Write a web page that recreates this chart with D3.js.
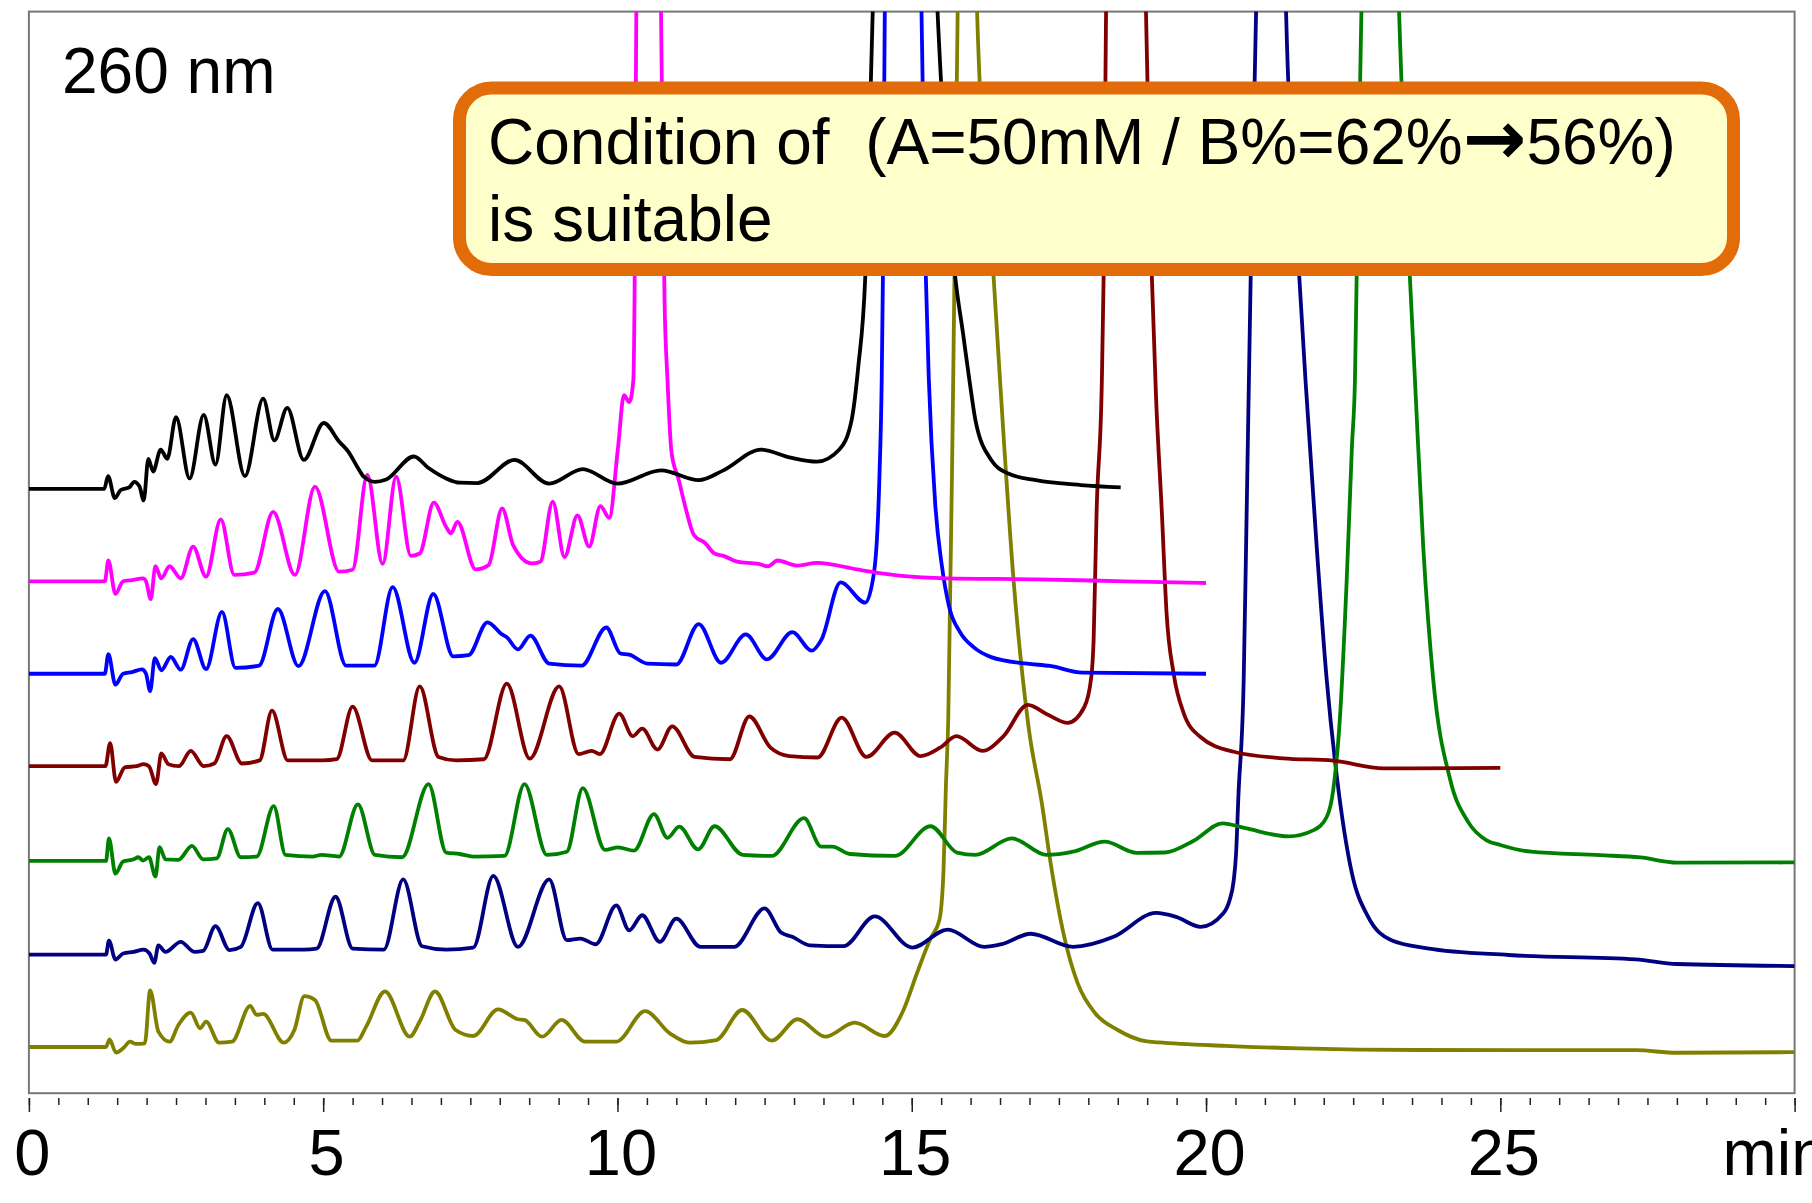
<!DOCTYPE html>
<html>
<head>
<meta charset="utf-8">
<script src="https://cdn.jsdelivr.net/npm/d3@7"></script>
<style>
  body { margin: 0; background: #fff; }
  svg { display: block; font-family: "Liberation Sans", Arial, Helvetica, sans-serif; }
</style>
</head>
<body>
<svg id="chart" width="1812" height="1203"></svg>
<script>
// [time (min), signal above the trace's own baseline]
const black = [
  [0, 0], [1.28, 0], [1.345, 11], [1.46, -8], [1.56, -1], [1.71, 1.5], [1.79, 6], [1.88, 2], [1.95, -10],
  [2.03, 26], [2.11, 15], [2.24, 34], [2.35, 26], [2.5, 62], [2.73, 9], [2.97, 64], [3.17, 21], [3.36, 81],
  [3.67, 11], [3.98, 78], [4.17, 42], [4.39, 70], [4.67, 25], [5.01, 57], [5.27, 41], [5.43, 32], [5.58, 19],
  [5.69, 10.5], [5.88, 6], [6.07, 8], [6.54, 28], [6.79, 18], [7.09, 9], [7.32, 5.3], [7.62, 5], [8.25, 25],
  [8.84, 4.5], [9.41, 17], [10.0, 4.5], [10.74, 16], [11.38, 7.5], [11.8, 16], [12.44, 34], [12.94, 27],
  [13.39, 23.5], [13.77, 34], [13.98, 60], [14.09, 105], [14.21, 183], [14.33, 400], [14.9, 1300],
  [15.45, 400], [15.74, 183], [15.87, 135], [15.98, 94], [16.08, 60], [16.35, 25], [16.65, 13],
  [17.11, 7.5], [17.87, 3.3], [18.55, 1.3]
];
const magenta = [
  [0, 0], [1.29, 0], [1.35, 18], [1.47, -11], [1.6, 0], [1.75, 1], [1.94, 2.5], [1.99, 0], [2.07, -15.5],
  [2.15, 13], [2.25, 2.5], [2.39, 13], [2.58, 2.5], [2.79, 30], [3.01, 4], [3.26, 53.5], [3.49, 5.5],
  [3.83, 7.5], [4.15, 60], [4.52, 5.5], [4.86, 82], [5.27, 8.3], [5.5, 10], [5.75, 92], [6.01, 15],
  [6.24, 90.5], [6.49, 22], [6.64, 24], [6.88, 68], [7.09, 47], [7.17, 41.5], [7.28, 51.5], [7.59, 10.3],
  [7.81, 14], [8.04, 63], [8.23, 31], [8.54, 15.5], [8.69, 17], [8.9, 69], [9.1, 21], [9.32, 57], [9.52, 30],
  [9.71, 65], [9.86, 55], [10.01, 116], [10.11, 161], [10.2, 155], [10.27, 174], [10.29, 243], [10.32, 493],
  [10.53, 1300], [10.74, 493], [10.8, 243], [10.85, 174], [10.92, 111], [11.04, 88], [11.15, 65], [11.3, 40],
  [11.49, 33], [11.65, 24], [11.8, 22], [12.03, 17], [12.4, 15], [12.56, 13], [12.72, 18], [13.05, 13.5],
  [13.39, 16], [14.07, 10.3], [14.3, 8.3], [14.83, 4.6], [15.59, 2.5], [17.11, 1.7], [18.62, 0], [20, -1.5]
];
const blue = [
  [0, 0], [1.29, 0], [1.35, 17], [1.47, -9.5], [1.6, 0], [1.75, 1.4], [1.92, 3.8], [1.99, 0], [2.06, -15],
  [2.14, 13.5], [2.25, 3], [2.41, 14.5], [2.58, 3.5], [2.79, 30], [3.01, 4], [3.28, 53.5], [3.51, 5], [3.91, 7],
  [4.23, 56], [4.58, 6.5], [5.03, 71.5], [5.39, 7], [5.87, 7], [6.18, 75], [6.55, 9.5], [6.87, 69], [7.21, 15],
  [7.47, 16], [7.79, 44.5], [8.04, 34], [8.12, 31.5], [8.31, 21], [8.52, 33], [8.84, 8.7], [9.39, 7],
  [9.81, 40], [10.05, 17.5], [10.2, 16.5], [10.51, 8.7], [11.0, 8], [11.38, 43], [11.76, 9.5], [12.18, 34],
  [12.54, 12.5], [12.97, 36], [13.3, 20], [13.47, 30], [13.79, 79], [14.21, 61.5], [14.36, 88], [14.45, 169],
  [14.49, 255], [14.51, 343], [14.54, 560], [14.85, 1400], [15.17, 560], [15.24, 343], [15.29, 255],
  [15.4, 146], [15.51, 94], [15.63, 59], [15.82, 36], [16.05, 23], [16.35, 14.4], [16.96, 8.7], [17.35, 6.7],
  [17.9, 1], [20, 0]
];
const red = [
  [0, 0], [1.3, 0], [1.38, 20], [1.48, -13.5], [1.63, -1], [1.83, 0], [1.95, 1.7], [2.04, 0], [2.16, -15.5],
  [2.25, 11], [2.37, 1.7], [2.55, 0], [2.75, 13.3], [2.97, 0], [3.15, 2.3], [3.36, 26], [3.62, 2.3], [3.92, 5],
  [4.13, 48], [4.4, 5], [4.99, 5], [5.23, 6], [5.5, 51.5], [5.83, 5], [6.36, 5], [6.64, 69], [6.96, 8],
  [7.26, 5], [7.73, 6], [8.12, 71.5], [8.51, 6.5], [9.01, 69], [9.34, 10.4], [9.56, 13.3], [9.7, 10.4],
  [10.03, 45.5], [10.26, 26], [10.42, 32.5], [10.68, 14.4], [10.93, 34.5], [11.31, 8], [11.91, 6],
  [12.24, 43], [12.6, 16], [12.92, 8.7], [13.4, 7.5], [13.81, 42], [14.23, 8], [14.71, 29], [15.15, 8.7],
  [15.48, 16], [15.76, 26], [16.2, 13.3], [16.56, 26], [16.97, 53], [17.33, 44], [17.65, 37.5], [17.93, 51],
  [18.05, 77], [18.09, 109], [18.14, 219], [18.23, 334], [18.26, 423], [18.31, 700], [18.64, 1300],
  [18.96, 700], [19.08, 423], [19.15, 320], [19.25, 219], [19.33, 132], [19.45, 80], [19.62, 46],
  [19.9, 25.5], [20.47, 12.5], [21.31, 6.8], [22.16, 4.8], [23.02, -1.9], [25, -1.5]
];
const green = [
  [0, 0], [1.31, 0], [1.36, 19.5], [1.47, -11], [1.6, -0.5], [1.78, 1.4], [1.86, 3.2], [1.94, 0.3],
  [2.04, 3.2], [2.15, -13.5], [2.22, 12], [2.32, 1.4], [2.54, 1], [2.77, 13], [2.96, 1.4], [3.19, 2.3],
  [3.38, 27.5], [3.6, 3.2], [3.87, 3.8], [4.16, 47.5], [4.36, 5.2], [4.82, 3.8], [4.97, 5.2], [5.27, 3.8],
  [5.59, 49], [5.88, 5.2], [6.34, 3.2], [6.79, 66.5], [7.09, 7.2], [7.32, 6], [7.55, 3.8], [8.08, 4.3],
  [8.42, 66.5], [8.8, 5.2], [9.14, 8], [9.41, 63], [9.79, 9.5], [10.01, 11.8], [10.28, 8.9], [10.62, 40.5],
  [10.85, 20], [11.05, 29.7], [11.37, 10], [11.65, 30], [12.13, 5.2], [12.62, 4.3], [13.17, 37],
  [13.46, 12.4], [13.65, 12.4], [13.95, 6], [14.71, 4.3], [15.32, 30], [15.77, 7.2], [16.08, 5.2],
  [16.7, 19.5], [17.29, 5.2], [17.74, 8], [18.28, 16.7], [18.82, 7], [19.3, 7.3], [19.79, 17.5],
  [20.28, 32.5], [20.67, 28.3], [21.4, 21.3], [21.83, 26.7], [22.05, 38], [22.16, 61], [22.28, 128],
  [22.39, 243], [22.48, 360], [22.53, 416], [22.56, 509], [22.64, 735], [22.95, 1500], [23.28, 735],
  [23.46, 509], [23.55, 416], [23.69, 272], [23.86, 157], [24.15, 70], [24.45, 34], [24.76, 18],
  [25.0, 13.8], [25.52, 8], [26.69, 5], [27.38, 3], [28.0, -1.5], [30, -1.3]
];
const navy = [
  [0, 0], [1.31, 0], [1.36, 12], [1.47, -4.3], [1.6, 0.9], [1.78, 2.3], [1.95, 4.3], [2.05, 0.9],
  [2.13, -7.2], [2.2, 8], [2.32, 2.3], [2.58, 11], [2.81, 2.3], [2.96, 3.2], [3.17, 24.5], [3.41, 3.8],
  [3.6, 6.6], [3.89, 44.5], [4.14, 4.3], [4.67, 4.3], [4.89, 5.2], [5.21, 50], [5.5, 5.2], [6.03, 4.3],
  [6.36, 65], [6.68, 7.2], [7.09, 4.3], [7.55, 6], [7.89, 68], [8.31, 6.6], [8.84, 65], [9.14, 12.4],
  [9.37, 13.8], [9.63, 8.9], [9.98, 42.5], [10.2, 21], [10.42, 34], [10.72, 11], [11.0, 31], [11.41, 6.6],
  [11.98, 6.6], [12.5, 40], [12.78, 19], [12.97, 15.3], [13.27, 8], [13.84, 7.2], [14.37, 33], [15.01, 6],
  [15.61, 21.6], [16.23, 6.6], [16.53, 9], [17.02, 18], [17.74, 6.6], [18.43, 15.3], [19.15, 36],
  [19.49, 32.6], [19.91, 24], [20.29, 35.5], [20.4, 47], [20.47, 64], [20.51, 87], [20.55, 137],
  [20.64, 238], [20.69, 382], [20.76, 590], [20.85, 815], [21.1, 1600], [21.36, 815], [21.58, 590],
  [21.69, 497], [21.88, 353], [22.05, 238], [22.22, 155], [22.48, 70], [22.75, 33], [23.14, 12.6],
  [23.76, 5.4], [25.14, -0.4], [27.3, -4.2], [28.0, -8.2], [30, -10]
];
const olive = [
  [0, 0], [1.31, 0], [1.37, 6.6], [1.48, -4.9], [1.6, -1.2], [1.72, 4.6], [1.82, 2.6], [1.97, 3.2],
  [2.06, 49], [2.2, 13.3], [2.39, 4.6], [2.54, 19], [2.75, 29.7], [2.91, 16.2], [3.01, 22], [3.23, 3.8],
  [3.45, 4.6], [3.76, 35.5], [3.87, 27.7], [3.98, 28.6], [4.33, 3.8], [4.51, 14.7], [4.68, 44], [4.86, 40.7],
  [5.14, 5.5], [5.58, 5.5], [5.73, 17.6], [6.05, 48], [6.47, 8.9], [6.64, 22], [6.9, 48], [7.25, 14.7],
  [7.55, 9.5], [7.97, 32.6], [8.31, 24], [8.42, 23.4], [8.72, 8.9], [9.05, 23.4], [9.45, 4.6], [9.98, 4.6],
  [10.47, 31], [10.89, 11.8], [11.22, 3.8], [11.68, 6], [12.12, 32], [12.62, 5.5], [13.06, 24], [13.53, 8.9],
  [14.03, 21], [14.54, 9.5], [14.86, 32], [15.09, 64], [15.32, 94], [15.47, 110], [15.54, 153], [15.58, 225],
  [15.62, 283], [15.7, 560], [15.78, 896], [15.95, 1500], [16.11, 896], [16.39, 667], [16.5, 577],
  [16.73, 404], [16.99, 275], [17.21, 211], [17.36, 159], [17.59, 95.5], [17.82, 55], [18.12, 29],
  [18.5, 14.7], [18.97, 5], [19.19, 4], [20.32, 1], [21.6, -1.2], [23.6, -2.6], [27.3, -2.8], [28.0, -5],
  [30, -4.5]
];

const traces = [olive, navy, green, red, blue, magenta, black];
const traceOffsets = [40, 120, 201, 283, 363, 443, 523];
const traceColors = ['#808000', '#000080', '#008000', '#800000', '#0000ff', '#ff00ff', '#000000'];

const majorTicks = [0, 5, 10, 15, 20, 25];
const minorTicks = d3.range(0, 30.001, 0.5);
const axisUnit = 'min';
const wavelengthLabel = '260 nm';
// each line is a list of [text, isArrow] runs
const noteLines = [
  [['Condition of  (A=50mM / B%=62%', false], ['\u2192', true], ['56%)', false]],
  [['is suitable', false]]
];

const svg = d3.select('#chart');
const x = d3.scaleLinear().domain([0, 30]).range([28.9, 1794.6]);
const y = d3.scaleLinear().domain([0, 936]).range([1093.2, 11.6]);

svg.append('defs').append('clipPath').attr('id', 'plot')
  .append('rect')
  .attr('x', x(0)).attr('y', y(936))
  .attr('width', x(30) - x(0)).attr('height', y(0) - y(936));

// frame
svg.append('rect')
  .attr('x', x(0)).attr('y', y(936))
  .attr('width', x(30) - x(0)).attr('height', y(0) - y(936))
  .attr('fill', 'none').attr('stroke', '#777').attr('stroke-width', 2);

const g = svg.append('g').attr('clip-path', 'url(#plot)');
traces.forEach((pts, i) => {
  const line = d3.line()
    .x((d) => x(d[0]))
    .y((d) => y(d[1] + traceOffsets[i]))
    .curve(d3.curveMonotoneX);
  g.append('path')
    .attr('d', line(pts))
    .attr('fill', 'none')
    .attr('stroke', traceColors[i])
    .attr('stroke-width', 3.8)
    .attr('stroke-linejoin', 'round');
});

// ticks sit a little below the frame
const axisY = 1098;
svg.append('g')
  .attr('transform', `translate(0,${axisY})`)
  .call(d3.axisBottom(x).tickValues(minorTicks).tickSize(7).tickFormat(''))
  .call((a) => a.select('.domain').remove())
  .call((a) => a.selectAll('line').attr('stroke', '#222').attr('stroke-width', 1.5));

svg.append('g')
  .attr('transform', `translate(0,${axisY})`)
  .call(d3.axisBottom(x).tickValues(majorTicks.concat([30])).tickSize(14)
    .tickFormat((d) => (d === 30 ? '' : d)))
  .call((a) => a.select('.domain').remove())
  .call((a) => a.selectAll('line').attr('stroke', '#222').attr('stroke-width', 1.5))
  .call((a) => a.selectAll('text')
    .attr('x', 3)
    .attr('y', 77).attr('dy', null)
    .attr('fill', '#000')
    .style('font-size', '65px')
    .style('font-family', '"Liberation Sans", Arial, sans-serif'));

svg.append('text')
  .attr('x', x(30) - 72).attr('y', axisY + 77)
  .style('font-size', '65px')
  .text(axisUnit);

svg.append('text')
  .attr('x', 62).attr('y', 93)
  .style('font-size', '64px')
  .text(wavelengthLabel);

// annotation box
svg.append('rect')
  .attr('x', 459.5).attr('y', 88)
  .attr('width', 1274).attr('height', 181.5)
  .attr('rx', 32).attr('ry', 32)
  .attr('fill', '#ffffcc')
  .attr('stroke', '#e36c0a')
  .attr('stroke-width', 13);

svg.append('g').selectAll('text')
  .data(noteLines)
  .join('text')
  .attr('x', 488)
  .attr('y', (d, i) => 164 + i * 77)
  .style('font-size', '64px')
  .style('white-space', 'pre')
  .selectAll('tspan')
  .data((d) => d)
  .join('tspan')
  .style('font-family', (d) => (d[1] ? '"DejaVu Sans", sans-serif' : null))
  .style('font-weight', (d) => (d[1] ? 'bold' : null))
  .style('font-size', (d) => (d[1] ? '76px' : null))
  .text((d) => d[0]);
</script>
</body>
</html>
